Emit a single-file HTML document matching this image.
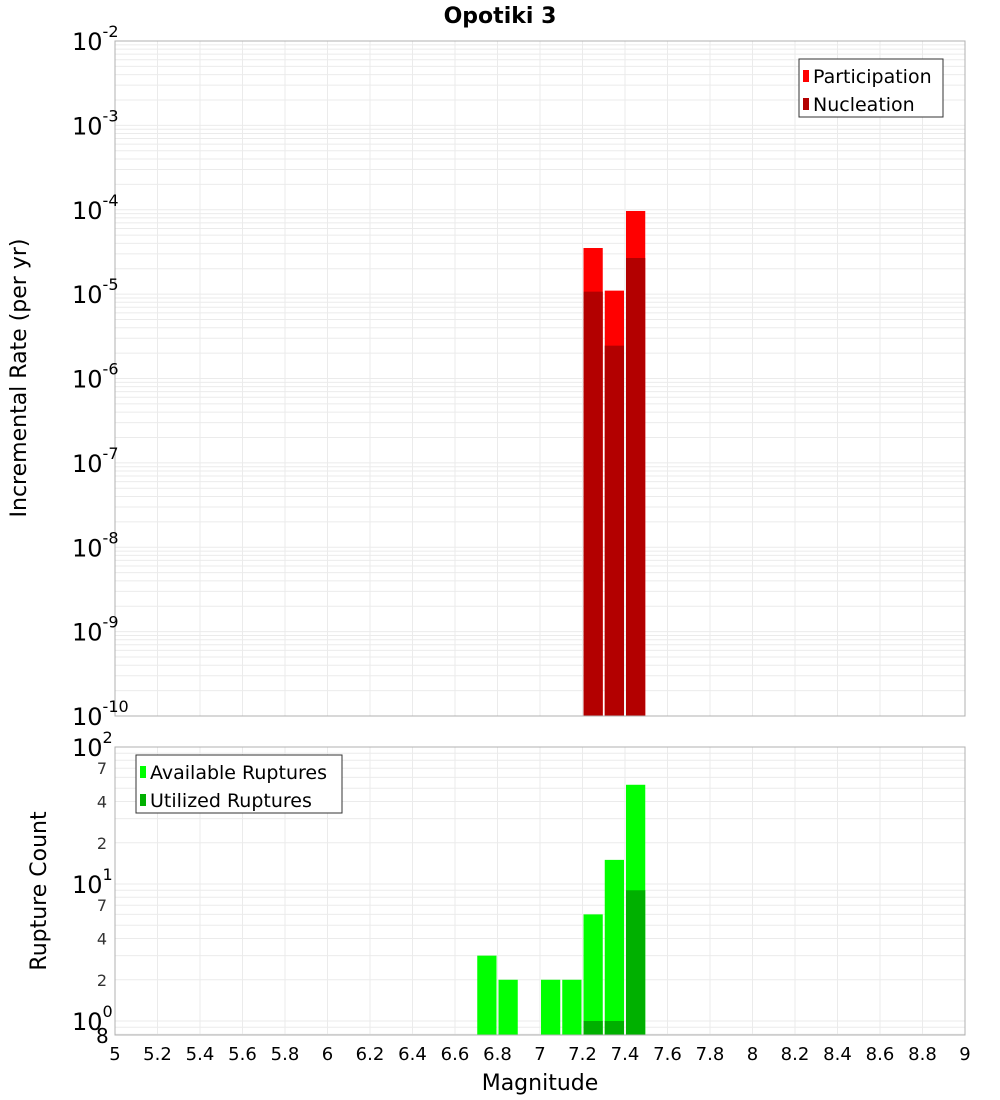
<!DOCTYPE html>
<html><head><meta charset="utf-8"><style>
body{margin:0;background:#fff;}
svg{display:block;font-family:"Liberation Sans","DejaVu Sans",sans-serif;}
</style></head><body>
<svg id="chart" width="1000" height="1100" viewBox="0 0 1000 1100" xmlns="http://www.w3.org/2000/svg">
<text x="500" y="23" text-anchor="middle" font-size="22" font-weight="bold" font-family="DejaVu Sans, sans-serif">Opotiki 3</text>
<g id="topg"></g><g id="botg"></g>
<text transform="translate(26,378) rotate(-90)" text-anchor="middle" font-size="22" font-family="DejaVu Sans, sans-serif">Incremental Rate (per yr)</text>
<text transform="translate(46,891) rotate(-90)" text-anchor="middle" font-size="22" font-family="DejaVu Sans, sans-serif">Rupture Count</text>
<text x="540" y="1090" text-anchor="middle" font-size="22" font-family="DejaVu Sans, sans-serif">Magnitude</text>
</svg>
<script>
const rateMags=[7.25,7.35,7.45];
const participation=[3.52e-5,1.1e-5,9.67e-5];
const nucleation=[1.07e-5,2.45e-6,2.68e-5];
const countMags=[6.75,6.85,7.05,7.15,7.25,7.35,7.45];
const available=[3,2,2,2,6,15,53];
const utilized=[0,0,0,0,1,1,9];
const xTicks=[5,5.2,5.4,5.6,5.8,6,6.2,6.4,6.6,6.8,7,7.2,7.4,7.6,7.8,8,8.2,8.4,8.6,8.8,9];
const topExps=[-2,-3,-4,-5,-6,-7,-8,-9,-10];
const botMinorLabels=[2,4,7];

const NS='http://www.w3.org/2000/svg';
const X0=115,X1=965;
const xs=m=>X0+(m-5)/(9-5)*(X1-X0);
const T0=41,T1=716,B0=747,B1=1035;
const ysTop=v=>T0+(-2-Math.log10(v))/8*(T1-T0);
const BD=137, B10=884;
const ysBot=v=>B10-(Math.log10(v)-1)*BD;
function mk(p,tag,a,txt){const e=document.createElementNS(NS,tag);for(const k in a)e.setAttribute(k,a[k]);if(txt!==undefined)e.textContent=txt;p.appendChild(e);return e;}
const topG=document.getElementById('topg'),botG=document.getElementById('botg');

for(let e=-10;e<-2;e++)for(let k=1;k<10;k++){const y=ysTop(k*Math.pow(10,e));
const l=mk(topG,'line',{x1:X0,x2:X1,y1:y,y2:y,stroke:'#ebebeb','stroke-width':1});

}
xTicks.forEach(t=>{const x=xs(t);const l=mk(topG,'line',{x1:x,x2:x,y1:T0,y2:T1,stroke:'#ebebeb'});


const l2=mk(botG,'line',{x1:x,x2:x,y1:B0,y2:B1,stroke:'#ebebeb'});

});
for(let e=-1;e<2;e++)for(let k=1;k<10;k++){const v=k*Math.pow(10,e);const y=ysBot(v);if(y<B0-0.5||y>B1)continue;
const l=mk(botG,'line',{x1:X0,x2:X1,y1:y,y2:y,stroke:'#ebebeb'});

}

rateMags.forEach((m,i)=>{const x=xs(m-0.05)+1,w=xs(m+0.05)-xs(m-0.05)-2;
let y=ysTop(participation[i]);let r=mk(topG,'rect',{x:x,y:y,width:w,height:T1-y,fill:'#ff0000'});


y=ysTop(nucleation[i]);r=mk(topG,'rect',{x:x,y:y,width:w,height:T1-y,fill:'#b30000'});

});
countMags.forEach((m,i)=>{const x=xs(m-0.05)+1,w=xs(m+0.05)-xs(m-0.05)-2;
let y=ysBot(available[i]);let r=mk(botG,'rect',{x:x,y:y,width:w,height:B1-y,fill:'#00ff00'});


if(utilized[i]>0){y=ysBot(utilized[i]);r=mk(botG,'rect',{x:x,y:y,width:w,height:B1-y,fill:'#00b000'});

}});

let f=mk(topG,'rect',{x:X0,y:T0,width:X1-X0,height:T1-T0,fill:'none',stroke:'#b0b0b0'});


f=mk(botG,'rect',{x:X0,y:B0,width:X1-X0,height:B1-B0,fill:'none',stroke:'#b0b0b0'});



topExps.forEach(e=>{const y=ysTop(Math.pow(10,e));const g=mk(topG,'text',{x:72,y:y+9,'font-size':24,'font-family':'DejaVu Sans, sans-serif'});


mk(g,'tspan',{},'10');mk(g,'tspan',{dy:-13,'font-size':16},String(e));});
[0,1,2].forEach(e=>{const y=ysBot(Math.pow(10,e));const g=mk(botG,'text',{x:72,y:y+9,'font-size':24,'font-family':'DejaVu Sans, sans-serif'});


mk(g,'tspan',{},'10');mk(g,'tspan',{dy:-13,'font-size':16},String(e));});
[0,1].forEach(e=>botMinorLabels.forEach(k=>{const y=ysBot(k*Math.pow(10,e));const t=mk(botG,'text',{x:107,y:y+6,'text-anchor':'end','font-size':16,fill:'#333','font-family':'DejaVu Sans, sans-serif'},String(k));

}));
let t8=mk(botG,'text',{x:96,y:1043,'font-size':20,'font-family':'DejaVu Sans, sans-serif'},'8');


xTicks.forEach(v=>{const t=mk(botG,'text',{x:xs(v),y:1060,'text-anchor':'middle','font-size':18,'font-family':'DejaVu Sans, sans-serif'},String(v));

});

function legend(p,x,y,w,items,name){const g=mk(p,'g',{});


mk(g,'rect',{x:x,y:y,width:w,height:58,fill:'#fff',stroke:'#333'});
items.forEach((it,i)=>{const yy=y+14+i*28;mk(g,'rect',{x:x+4,y:yy-3,width:6,height:12,fill:it[1]});
const t=mk(g,'text',{x:x+14,y:yy+10,'font-size':19,'font-family':'DejaVu Sans, sans-serif'},it[0]);

});}
legend(topG,799,59,144,[['Participation','#ff0000'],['Nucleation','#b30000']],'top-legend');
legend(botG,136,755,206,[['Available Ruptures','#00ff00'],['Utilized Ruptures','#00b000']],'bottom-legend');
</script>
</body></html>
